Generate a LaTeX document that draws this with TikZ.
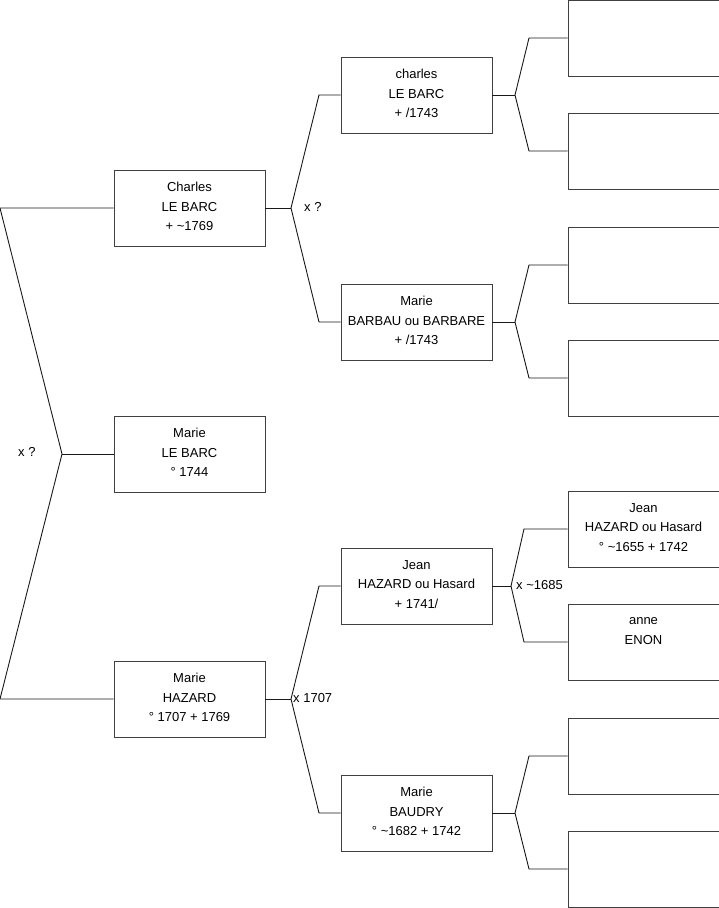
\documentclass[tikz,border=0pt]{standalone}
\usepackage{fontspec}
\setmainfont{Liberation Sans}
\usepackage{tikz}
\usetikzlibrary{positioning}
\tikzstyle{person} = [rectangle, minimum width=151pt, minimum height=76pt, inner sep=0pt, text depth=3pt, text centered, align=center, draw=black!75, line width=0.9pt, font=\fontsize{13}{19.7}\selectfont]
\tikzstyle{link} = [draw=black!90, line width=0.9pt]
\tikzstyle{union} = [anchor=west, inner sep=0pt, font=\fontsize{13}{15}\selectfont]

\begin{document}
\begin{tikzpicture}[x=1pt, y=1pt, node distance=227pt]
\useasboundingbox (0,0) rectangle (719,-908);

% Generation 1
\node (charles) [person] at (189.5,-208) {Charles\\LE BARC\\+ \textasciitilde 1769};
\node (marielb) [person] at (189.5,-454) {Marie\\LE BARC\\° 1744};
\node (mariehz) [person] at (189.5,-699) {Marie\\HAZARD\\° 1707 + 1769};

% Generation 2
\node (charlesf) [person, right of=charles, yshift=113pt] {charles\\LE BARC\\+ /1743};
\node (barbau) [person, right of=charles, yshift=-114pt] {Marie\\BARBAU ou BARBARE\\+ /1743};
\node (jean) [person, right of=mariehz, yshift=113pt] {Jean\\HAZARD ou Hasard\\+ 1741/};
\node (baudry) [person, right of=mariehz, yshift=-114pt] {Marie\\BAUDRY\\° \textasciitilde 1682 + 1742};

% Generation 3
\node (cf1) [person, right of=charlesf, yshift=57pt] {};
\node (cf2) [person, right of=charlesf, yshift=-56pt] {};
\node (bb1) [person, right of=barbau, yshift=57pt] {};
\node (bb2) [person, right of=barbau, yshift=-56pt] {};
\node (jeanf) [person, right of=jean, yshift=57pt] {Jean\\HAZARD ou Hasard\\° \textasciitilde 1655 + 1742};
\node (anne) [person, right of=jean, yshift=-56pt] {anne\\ENON\\ };
\node (bd1) [person, right of=baudry, yshift=57pt] {};
\node (bd2) [person, right of=baudry, yshift=-56pt] {};

% Bends of the connectors
\coordinate (rtop) at (0,-208);
\coordinate (rbot) at (0,-699);
\coordinate (rj) at (62,-454);
\coordinate (cj) at (291,-208);
\coordinate (ct) at (319,-95);
\coordinate (cb) at (319,-322);
\coordinate (hj) at (291,-699);
\coordinate (ht) at (319,-586);
\coordinate (hb) at (319,-813);
\coordinate (cfj) at (515,-95);
\coordinate (cft) at (529,-38);
\coordinate (cfb) at (529,-151);
\coordinate (bbj) at (515,-322);
\coordinate (bbt) at (529,-265);
\coordinate (bbb) at (529,-378);
\coordinate (jj) at (511,-586);
\coordinate (jt) at (524,-529);
\coordinate (jb) at (524,-642);
\coordinate (bdj) at (515,-813);
\coordinate (bdt) at (529,-756);
\coordinate (bdb) at (529,-869);

% Connectors
\draw [link] (charles.west) -- (rtop) -- (rj) -- (rbot) -- (mariehz.west);
\draw [link] (rj) -- (marielb.west);

\draw [link] (charles.east) -- (cj);
\draw [link] (charlesf.west) -- (ct) -- (cj) -- (cb) -- (barbau.west);
\draw [link] (mariehz.east) -- (hj);
\draw [link] (jean.west) -- (ht) -- (hj) -- (hb) -- (baudry.west);

\draw [link] (charlesf.east) -- (cfj);
\draw [link] (cf1.west) -- (cft) -- (cfj) -- (cfb) -- (cf2.west);
\draw [link] (barbau.east) -- (bbj);
\draw [link] (bb1.west) -- (bbt) -- (bbj) -- (bbb) -- (bb2.west);
\draw [link] (jean.east) -- (jj);
\draw [link] (jeanf.west) -- (jt) -- (jj) -- (jb) -- (anne.west);
\draw [link] (baudry.east) -- (bdj);
\draw [link] (bd1.west) -- (bdt) -- (bdj) -- (bdb) -- (bd2.west);

% Marriage labels
\node (u0) [union] at (18,-452) {x ?};
\node (u1) [union] at (304,-207) {x ?};
\node (u2) [union] at (293,-698) {x 1707};
\node (u3) [union] at (516,-585) {x \textasciitilde 1685};

\end{tikzpicture}
\end{document}
